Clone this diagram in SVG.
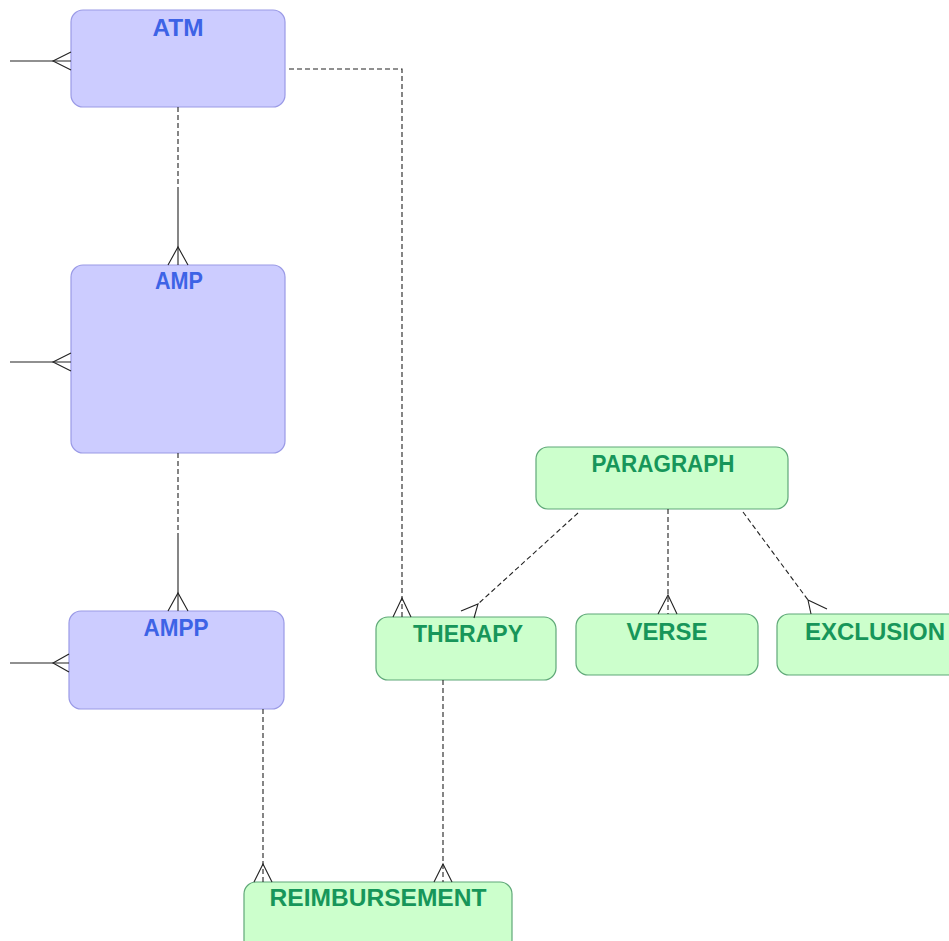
<svg xmlns="http://www.w3.org/2000/svg" width="949" height="941" viewBox="0 0 949 941">
<style>
.blue rect{fill:#ccccff;stroke:#9a9ae6;stroke-width:1.2}
.green rect{fill:#ccffcc;stroke:#5fa878;stroke-width:1.2}
text{font-family:"Liberation Sans",Arial,sans-serif;font-weight:bold;font-size:23px;text-anchor:middle}
.blue text{fill:#3d63e6}
.green text{fill:#17965a}
.c line,.c path,.c polyline{fill:none;stroke:#222;stroke-width:1.1}
.d{stroke-dasharray:5 3}
</style>
<rect width="949" height="941" fill="#ffffff"/>
<g id="ATM" class="blue"><rect x="71" y="10" width="214" height="97" rx="12"/><text x="178" y="36" textLength="51" lengthAdjust="spacingAndGlyphs">ATM</text></g>
<g id="AMP" class="blue"><rect x="71" y="265" width="214" height="188" rx="12"/><text x="179" y="289" textLength="48" lengthAdjust="spacingAndGlyphs">AMP</text></g>
<g id="AMPP" class="blue"><rect x="69" y="611" width="215" height="98" rx="12"/><text x="176" y="636" textLength="65" lengthAdjust="spacingAndGlyphs">AMPP</text></g>
<g id="THERAPY" class="green"><rect x="376" y="617" width="180" height="63" rx="12"/><text x="468" y="642" textLength="110" lengthAdjust="spacingAndGlyphs">THERAPY</text></g>
<g id="PARAGRAPH" class="green"><rect x="536" y="447" width="252" height="62" rx="12"/><text x="663" y="472" textLength="143" lengthAdjust="spacingAndGlyphs">PARAGRAPH</text></g>
<g id="VERSE" class="green"><rect x="576" y="614" width="182" height="61" rx="12"/><text x="667" y="640" textLength="81" lengthAdjust="spacingAndGlyphs">VERSE</text></g>
<g id="EXCLUSION" class="green"><rect x="777" y="614" width="190" height="61" rx="12"/><text x="875" y="640" textLength="140" lengthAdjust="spacingAndGlyphs">EXCLUSION</text></g>
<g id="REIMBURSEMENT" class="green"><rect x="244" y="882" width="268" height="70" rx="12"/><text x="378" y="906" textLength="217" lengthAdjust="spacingAndGlyphs">REIMBURSEMENT</text></g>
<g id="connectors" class="c">
<line x1="10" y1="61" x2="71" y2="61"/><polyline points="71,52 53,61 71,70"/>
<line x1="10" y1="362" x2="71" y2="362"/><polyline points="71,353 53,362 71,371"/>
<line x1="10" y1="663" x2="69" y2="663"/><polyline points="69,654 53,663 69,672"/>
<line class="d" x1="178" y1="107" x2="178" y2="187"/><line x1="178" y1="187" x2="178" y2="265"/><polyline points="168,265 178,247 188,265"/>
<line class="d" x1="178" y1="453" x2="178" y2="535"/><line x1="178" y1="535" x2="178" y2="611"/><polyline points="168,611 178,593 188,611"/>
<polyline class="d" points="289,69 402,69 402,617"/><polyline points="393,617 402,598 411,617"/>
<line class="d" x1="578" y1="513" x2="478" y2="604"/><polyline points="461,611 478,604 474,618"/>
<line class="d" x1="668" y1="509" x2="668" y2="614"/><polyline points="658,614 668,595 677,614"/>
<line class="d" x1="743" y1="512" x2="808" y2="600"/><polyline points="811,614 808,600 827,609"/>
<line class="d" x1="263" y1="709" x2="263" y2="882"/><polyline points="254,882 263,864 272,882"/>
<line class="d" x1="443" y1="680" x2="443" y2="882"/><polyline points="434,882 443,864 452,882"/>
</g>
</svg>
